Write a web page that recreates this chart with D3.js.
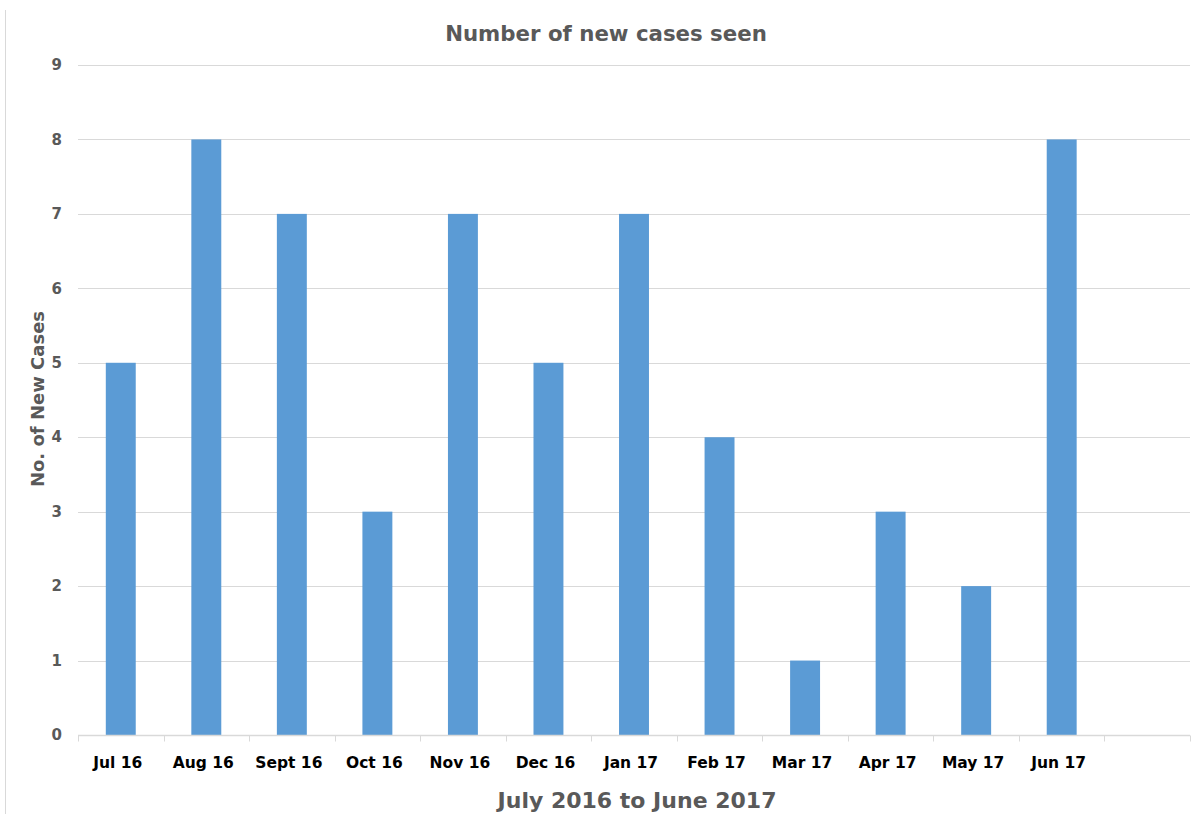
<!DOCTYPE html>
<html>
<head>
<meta charset="utf-8">
<script src="https://cdn.jsdelivr.net/npm/d3@7"></script>
<style>
  html, body { margin: 0; padding: 0; background: #fff; }
  svg { display: block; }
  text { font-family: "DejaVu Sans", Verdana, sans-serif; font-weight: bold; }
</style>
</head>
<body>
<svg id="chart" width="1194" height="814"></svg>
<script>
// Monthly new cases, July 2016 – June 2017
const months = ["Jul 16", "Aug 16", "Sept 16", "Oct 16", "Nov 16", "Dec 16",
                "Jan 17", "Feb 17", "Mar 17", "Apr 17", "May 17", "Jun 17"];
const newCases = [5, 8, 7, 3, 7, 5, 7, 4, 1, 3, 2, 8];
const yTicks = [0, 1, 2, 3, 4, 5, 6, 7, 8, 9];

const chartTitle = "Number of new cases seen";
const xTitle = "July 2016 to June 2017";
const yTitle = "No. of New Cases";

const W = 1194, H = 814;
const plot = { left: 78, right: 1190, top: 65, bottom: 735 };

const svg = d3.select("#chart");

// outer chart-area edge on the left
svg.append("line")
  .attr("x1", 5.5).attr("x2", 5.5).attr("y1", 10).attr("y2", H)
  .attr("stroke", "#d9d9d9").attr("stroke-width", 1);

// category axis keeps one blank trailing slot after the last month
const slots = months.concat([""]);
const x = d3.scaleBand()
  .domain(slots)
  .range([plot.left, plot.right])
  .paddingInner(0.65)
  .paddingOuter(0.325);

const y = d3.scaleLinear()
  .domain([0, d3.max(yTicks)])
  .range([plot.bottom, plot.top]);

// horizontal gridlines
svg.append("g").selectAll("line")
  .data(yTicks.filter(t => t > 0))
  .join("line")
  .attr("x1", plot.left).attr("x2", plot.right)
  .attr("y1", d => Math.round(y(d)) + 0.5).attr("y2", d => Math.round(y(d)) + 0.5)
  .attr("stroke", "#d9d9d9").attr("stroke-width", 1);

// y tick labels
svg.append("g").selectAll("text")
  .data(yTicks)
  .join("text")
  .attr("x", 62)
  .attr("y", d => y(d))
  .attr("dy", "0.35em")
  .attr("text-anchor", "end")
  .attr("font-size", 15)
  .attr("fill", "#595959")
  .text(d => d);

// bars
svg.append("g").selectAll("rect")
  .data(months.map((m, i) => ({ m, v: newCases[i] })))
  .join("rect")
  .attr("x", d => x(d.m))
  .attr("y", d => y(d.v))
  .attr("width", x.bandwidth())
  .attr("height", d => y(0) - y(d.v))
  .attr("fill", "#5b9bd5");

// category axis line with slot-boundary ticks
const step = x.step();
const bounds = slots.map(s => x(s) - step * x.paddingInner() / 2).concat([plot.right]);
const axisY = Math.round(y(0)) + 0.5;
svg.append("line")
  .attr("x1", plot.left).attr("x2", plot.right)
  .attr("y1", axisY).attr("y2", axisY)
  .attr("stroke", "#d9d9d9").attr("stroke-width", 1.5);
svg.append("g").selectAll("line")
  .data(bounds)
  .join("line")
  .attr("x1", d => Math.round(d) + 0.5).attr("x2", d => Math.round(d) + 0.5)
  .attr("y1", axisY).attr("y2", axisY + 6)
  .attr("stroke", "#d9d9d9").attr("stroke-width", 1);

// month labels
svg.append("g").selectAll("text")
  .data(months)
  .join("text")
  .attr("x", d => x(d) + x.bandwidth() / 2 - 3)
  .attr("y", 768)
  .attr("text-anchor", "middle")
  .attr("font-size", 15.5)
  .attr("fill", "#000")
  .text(d => d);

// chart title
svg.append("text")
  .attr("x", 606).attr("y", 41)
  .attr("text-anchor", "middle")
  .attr("font-size", 21.3)
  .attr("fill", "#595959")
  .text(chartTitle);

// x-axis title
svg.append("text")
  .attr("x", 637).attr("y", 808)
  .attr("text-anchor", "middle")
  .attr("font-size", 22)
  .attr("fill", "#595959")
  .text(xTitle);

// y-axis title
svg.append("text")
  .attr("transform", "translate(44,399) rotate(-90)")
  .attr("text-anchor", "middle")
  .attr("font-size", 18)
  .attr("fill", "#595959")
  .text(yTitle);
</script>
</body>
</html>
